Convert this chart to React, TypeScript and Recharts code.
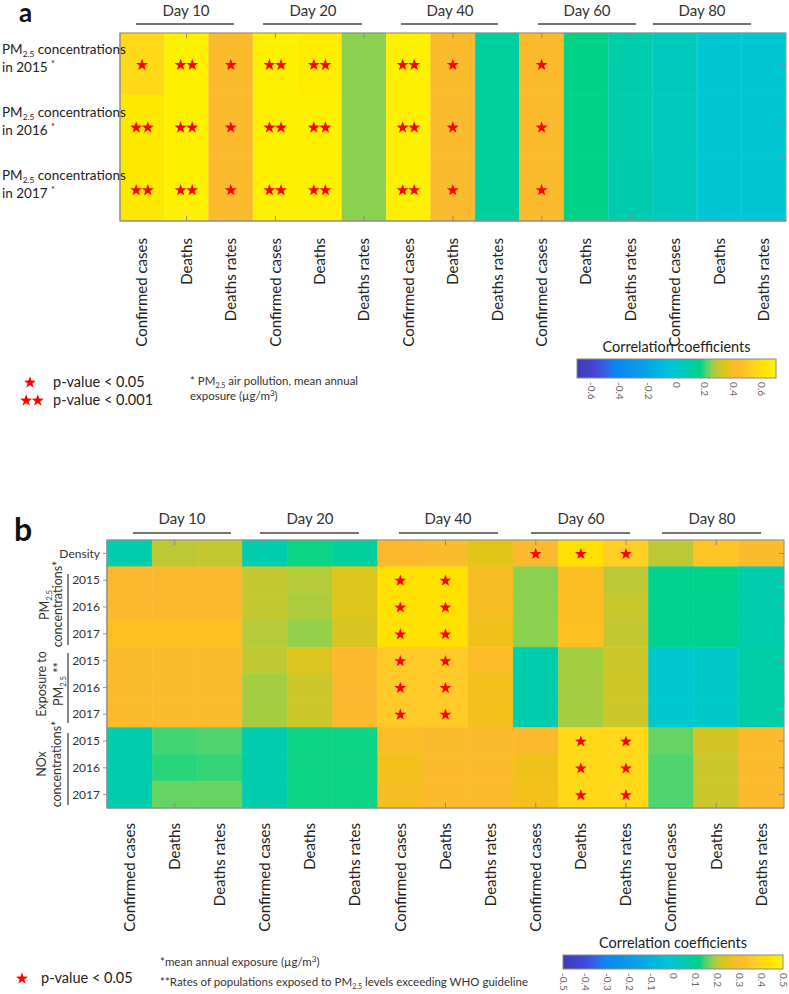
import React from 'react'
import { ComposedChart, Bar, XAxis, YAxis } from 'recharts'

// ---------- data ----------
const dayGroups = ['Day 10', 'Day 20', 'Day 40', 'Day 60', 'Day 80']
const outcomes = ['Confirmed cases', 'Deaths', 'Deaths rates']

// panel a: PM2.5 concentrations 2015-2017
const yearsA = ['2015', '2016', '2017']
const corrA = [
  [0.56, 0.67, 0.41, 0.67, 0.66, 0.245, 0.67, 0.42, 0.12, 0.42, 0.168, 0.084, 0.04, -0.014, -0.016],
  [0.64, 0.67, 0.41, 0.67, 0.67, 0.245, 0.67, 0.41, 0.12, 0.42, 0.168, 0.084, 0.04, -0.014, -0.016],
  [0.64, 0.67, 0.41, 0.67, 0.67, 0.245, 0.67, 0.41, 0.12, 0.42, 0.168, 0.08, 0.04, -0.014, -0.016],
]
// 0 = n.s., 1 = p < 0.05, 2 = p < 0.001
const sigA = [
  [1, 2, 1, 2, 2, 0, 2, 1, 0, 1, 0, 0, 0, 0, 0],
  [2, 2, 1, 2, 2, 0, 2, 1, 0, 1, 0, 0, 0, 0, 0],
  [2, 2, 1, 2, 2, 0, 2, 1, 0, 1, 0, 0, 0, 0, 0],
]

// panel b
const rowsB = ['Density', '2015', '2016', '2017', '2015', '2016', '2017', '2015', '2016', '2017']
const corrB = [
  [0.06, 0.205, 0.21, 0.055, 0.125, 0.09, 0.29, 0.3, 0.252, 0.29, 0.43, 0.37, 0.205, 0.345, 0.3],
  [0.29, 0.29, 0.29, 0.21, 0.2, 0.245, 0.43, 0.43, 0.28, 0.175, 0.32, 0.205, 0.11, 0.115, 0.055],
  [0.29, 0.29, 0.29, 0.21, 0.195, 0.245, 0.43, 0.43, 0.28, 0.175, 0.32, 0.215, 0.11, 0.11, 0.055],
  [0.33, 0.33, 0.33, 0.2, 0.18, 0.235, 0.43, 0.43, 0.27, 0.175, 0.33, 0.21, 0.11, 0.11, 0.055],
  [0.3, 0.3, 0.3, 0.208, 0.24, 0.29, 0.36, 0.36, 0.31, 0.06, 0.19, 0.22, 0.0, 0.01, 0.07],
  [0.3, 0.3, 0.3, 0.19, 0.22, 0.29, 0.36, 0.36, 0.275, 0.06, 0.19, 0.225, 0.0, 0.01, 0.07],
  [0.3, 0.3, 0.3, 0.19, 0.22, 0.29, 0.36, 0.36, 0.275, 0.06, 0.19, 0.22, 0.0, 0.01, 0.07],
  [0.06, 0.145, 0.15, 0.055, 0.125, 0.125, 0.31, 0.3, 0.295, 0.29, 0.4, 0.4, 0.16, 0.23, 0.3],
  [0.06, 0.135, 0.14, 0.055, 0.125, 0.125, 0.275, 0.3, 0.3, 0.27, 0.4, 0.4, 0.15, 0.22, 0.3],
  [0.06, 0.16, 0.16, 0.055, 0.125, 0.125, 0.28, 0.3, 0.3, 0.275, 0.4, 0.4, 0.15, 0.22, 0.3],
]
const sigB = [
  [0, 0, 0, 0, 0, 0, 0, 0, 0, 1, 1, 1, 0, 0, 0],
  [0, 0, 0, 0, 0, 0, 1, 1, 0, 0, 0, 0, 0, 0, 0],
  [0, 0, 0, 0, 0, 0, 1, 1, 0, 0, 0, 0, 0, 0, 0],
  [0, 0, 0, 0, 0, 0, 1, 1, 0, 0, 0, 0, 0, 0, 0],
  [0, 0, 0, 0, 0, 0, 1, 1, 0, 0, 0, 0, 0, 0, 0],
  [0, 0, 0, 0, 0, 0, 1, 1, 0, 0, 0, 0, 0, 0, 0],
  [0, 0, 0, 0, 0, 0, 1, 1, 0, 0, 0, 0, 0, 0, 0],
  [0, 0, 0, 0, 0, 0, 0, 0, 0, 0, 1, 1, 0, 0, 0],
  [0, 0, 0, 0, 0, 0, 0, 0, 0, 0, 1, 1, 0, 0, 0],
  [0, 0, 0, 0, 0, 0, 0, 0, 0, 0, 1, 1, 0, 0, 0],
]

const rangeA: [number, number] = [-0.7, 0.7]
const rangeB: [number, number] = [-0.5, 0.5]
const cbarTicksA = [-0.6, -0.4, -0.2, 0, 0.2, 0.4, 0.6]
const cbarTicksB = [-0.5, -0.4, -0.3, -0.2, -0.1, 0, 0.1, 0.2, 0.3, 0.4, 0.5]

// ---------- layout / style ----------
const W = 789
const FONT = 'Lato, "Open Sans", sans-serif'
const PLOT_A = { left: 120, top: 33, width: 666, height: 188 }
const PLOT_B = { left: 107, top: 540, width: 677, height: 268 }
const CHART_B_TOP = 480

const headersA = [
  { cx: 186, x1: 136, x2: 234 }, { cx: 313, x1: 263, x2: 362 }, { cx: 450, x1: 401, x2: 498 },
  { cx: 587, x1: 538, x2: 636 }, { cx: 702, x1: 653, x2: 751 },
]
const headersB = [
  { cx: 182, x1: 133, x2: 231 }, { cx: 310, x1: 260, x2: 359 }, { cx: 448, x1: 399, x2: 498 },
  { cx: 581, x1: 531, x2: 630 }, { cx: 712, x1: 662, x2: 761 },
]

const cmapStops: [number, string][] = [
  [0.0, '#3d3bb5'], [0.1, '#4448d8'], [0.15, '#2f66ea'], [0.19, '#0d84f2'], [0.3, '#0a98ec'],
  [0.42, '#00b8dc'], [0.48, '#00c6d6'], [0.5, '#00c8cf'], [0.555, '#00ccae'], [0.59, '#00d09c'],
  [0.62, '#00d388'], [0.65, '#50d470'], [0.68, '#96d04a'], [0.71, '#c4c830'], [0.75, '#e2c418'],
  [0.775, '#f4c01c'], [0.79, '#fcb930'], [0.83, '#fdc020'], [0.86, '#ffca28'], [0.9, '#ffd818'],
  [0.93, '#ffe000'], [1.0, '#fff500'],
]

const hex = (c: string) => [1, 3, 5].map((i) => parseInt(c.slice(i, i + 2), 16))
function cmap(v: number, range: [number, number]) {
  const t = Math.max(0, Math.min(1, (v - range[0]) / (range[1] - range[0])))
  for (let i = 1; i < cmapStops.length; i++) {
    const [t1, c1] = cmapStops[i]
    if (t <= t1) {
      const [t0, c0] = cmapStops[i - 1]
      const f = (t - t0) / (t1 - t0)
      const a = hex(c0), b = hex(c1)
      return `rgb(${a.map((x, k) => Math.round(x + (b[k] - x) * f)).join(',')})`
    }
  }
  return cmapStops[cmapStops.length - 1][1]
}

const columns = dayGroups.flatMap((g) => outcomes.map((o) => ({ key: `${g}|${o}`, label: o })))

function starPoints(cx: number, cy: number, r: number) {
  const pts: string[] = []
  for (let k = 0; k < 10; k++) {
    const rad = k % 2 === 0 ? r : r * 0.4
    const ang = -Math.PI / 2 + (k * Math.PI) / 5
    pts.push(`${(cx + rad * Math.cos(ang)).toFixed(2)},${(cy + rad * Math.sin(ang)).toFixed(2)}`)
  }
  return pts.join(' ')
}
const Star = ({ cx, cy, r }: any) => <polygon points={starPoints(cx, cy + r * 0.095, r)} fill="#ff0000" />

function Stars({ cx, cy, r, n }: any) {
  if (n === 1) return <Star cx={cx} cy={cy} r={r} />
  if (n === 2)
    return (
      <g>
        <Star cx={cx - r * 0.92} cy={cy} r={r} />
        <Star cx={cx + r * 0.92} cy={cy} r={r} />
      </g>
    )
  return null
}

function HeatCell(p: any) {
  const { x, y, width, height, fill, n, r } = p
  const top = Math.min(y, y + height)
  const h = Math.abs(height)
  return (
    <g>
      <rect x={x} y={top} width={width} height={h} fill={fill} stroke={fill} strokeWidth={0.6} />
      <Stars cx={x + width / 2} cy={top + h / 2} r={r} n={n} />
    </g>
  )
}

const ColTick = ({ x, y, payload, fontSize, gap }: any) => (
  <text
    x={x}
    y={y}
    dx={-gap}
    dy="0.35em"
    transform={`rotate(-90 ${x} ${y})`}
    textAnchor="end"
    fontSize={fontSize}
    fontFamily={FONT}
    fill="#222"
  >
    {String(payload.value).split('|')[1]}
  </text>
)

const PM = ({ size }: { size: number }) => (
  <>
    PM<tspan fontSize={size * 0.62} dy={3}>2.5</tspan>
    <tspan dy={-3}> </tspan>
  </>
)

const RowTickA = ({ x, y, payload }: any) => {
  const i = Math.floor(payload.value)
  return (
    <g fontFamily={FONT} fontSize={13.5} fill="#222">
      <text x={x - 118} y={y - 10}>
        <PM size={13.5} />concentrations
      </text>
      <text x={x - 118} y={y + 8}>
        in {yearsA[i]} <tspan fontSize={9} dy={-5}>*</tspan>
      </text>
    </g>
  )
}

function HeatPanel({ rows, corr, sig, range, plot, top, xAxisH, fontSize, gap, yTick, yTickSize, yFormat, starR }: any) {
  const data = columns.map((c) => {
    const d: any = { key: c.key }
    rows.forEach((_: string, ri: number) => (d[`r${ri}`] = 1))
    return d
  })
  const height = plot.top - top + plot.height + xAxisH
  return (
    <div style={{ position: 'absolute', left: 0, top }}>
      <ComposedChart
        width={W}
        height={height}
        data={data}
        margin={{ top: plot.top - top, right: W - plot.left - plot.width, bottom: 0, left: 0 }}
        barCategoryGap={0}
        barGap={0}
      >
        <XAxis
          dataKey="key"
          type="category"
          height={xAxisH}
          interval={0}
          tickLine={false}
          axisLine={{ stroke: '#999' }}
          tick={(p: any) => <ColTick {...p} fontSize={fontSize} gap={gap} />}
        />
        <YAxis
          type="number"
          domain={[0, rows.length]}
          reversed
          ticks={rows.map((_: string, i: number) => i + 0.5)}
          interval={0}
          width={plot.left}
          axisLine={{ stroke: '#999' }}
          tickLine={yTickSize ? { stroke: '#999' } : false}
          tickSize={yTickSize}
          tickMargin={yTickSize ? 3 : 0}
          tickFormatter={yFormat}
          tick={yTick}
        />
        {rows.map((_: string, ri: number) => (
          <Bar
            key={ri}
            dataKey={`r${ri}`}
            stackId="heat"
            isAnimationActive={false}
            shape={(p: any) => (
              <HeatCell {...p} fill={cmap(corr[ri][p.index], range)} n={sig[ri][p.index]} r={starR} />
            )}
          />
        ))}
      </ComposedChart>
    </div>
  )
}

function Frame({ plot, nRows, sideTicks }: any) {
  const cw = plot.width / columns.length
  const rh = plot.height / nRows
  const marks: JSX.Element[] = []
  columns.forEach((_, ci) => {
    if (ci % 2 === 1) {
      const x = plot.left + cw * (ci + 0.5)
      marks.push(<line key={`t${ci}`} x1={x} x2={x} y1={plot.top} y2={plot.top + 5} />)
      marks.push(<line key={`b${ci}`} x1={x} x2={x} y1={plot.top + plot.height} y2={plot.top + plot.height - 5} />)
    }
  })
  sideTicks.forEach((f: number, k: number) => {
    const y = plot.top + rh * f
    marks.push(<line key={`r${k}`} x1={plot.left + plot.width} x2={plot.left + plot.width - 5} y1={y} y2={y} />)
  })
  return (
    <g stroke="#8a8a8a" strokeWidth={1}>
      <rect x={plot.left} y={plot.top} width={plot.width} height={plot.height} fill="none" />
      {marks}
    </g>
  )
}

function ColorBar({ id, x, y, w, h, range, ticks, title, titleY }: any) {
  return (
    <g fontFamily={FONT}>
      <defs>
        <linearGradient id={id} x1="0" x2="1" y1="0" y2="0">
          {cmapStops.map(([t, c]) => (
            <stop key={t} offset={t} stopColor={c} />
          ))}
        </linearGradient>
      </defs>
      <text x={x + w / 2} y={titleY} textAnchor="middle" fontSize={14.5} fill="#222">
        {title}
      </text>
      <rect x={x} y={y} width={w} height={h} fill={`url(#${id})`} stroke="#8a8a8a" />
      {ticks.map((v: number) => {
        const tx = x + ((v - range[0]) / (range[1] - range[0])) * w
        const ty = y + h + 4
        return (
          <text key={v} x={tx} y={ty} dy="0.35em" transform={`rotate(90 ${tx} ${ty})`} fontSize={10} fill="#666">
            {String(v)}
          </text>
        )
      })}
    </g>
  )
}

function Headers({ items, textY, lineY }: any) {
  return (
    <g fontFamily={FONT}>
      {items.map((h: any, i: number) => (
        <g key={i}>
          <text x={h.cx} y={textY} textAnchor="middle" fontSize={15} fill="#333">
            {dayGroups[i]}
          </text>
          <line x1={h.x1} x2={h.x2} y1={lineY} y2={lineY} stroke="#444" strokeWidth={1.4} />
        </g>
      ))}
    </g>
  )
}

function RotLabel({ cx, cy, children, size = 12.5 }: any) {
  return (
    <text
      x={cx}
      y={cy}
      dy="0.35em"
      transform={`rotate(-90 ${cx} ${cy})`}
      textAnchor="middle"
      fontSize={size}
      fontFamily={FONT}
      fill="#333"
    >
      {children}
    </text>
  )
}

export default function App() {
  return (
    <div style={{ position: 'relative', width: W, height: 994, background: '#fff', fontFamily: FONT }}>
      <style>{'body{margin:0}'}</style>
      <HeatPanel
        rows={yearsA}
        corr={corrA}
        sig={sigA}
        range={rangeA}
        plot={PLOT_A}
        top={0}
        xAxisH={132}
        fontSize={15}
        gap={9}
        yTick={(p: any) => <RowTickA {...p} />}
        yTickSize={0}
        starR={6.3}
      />
      <HeatPanel
        rows={rowsB}
        corr={corrB}
        sig={sigB}
        range={rangeB}
        plot={PLOT_B}
        top={CHART_B_TOP}
        xAxisH={132}
        fontSize={15}
        gap={7}
        yTick={{ fontSize: 12, fill: '#333', fontFamily: FONT }}
        yTickSize={4}
        yFormat={(v: number) => rowsB[Math.floor(v)]}
        starR={6.2}
      />
      <svg width={W} height={994} style={{ position: 'absolute', left: 0, top: 0, pointerEvents: 'none' }}>
        <Frame plot={PLOT_A} nRows={3} sideTicks={[0.5, 1, 1.5, 2, 2.5]} />
        <Frame plot={PLOT_B} nRows={10} sideTicks={[0.5, 1.5, 2.5, 3.5, 4.5, 5.5, 6.5, 7.5, 8.5, 9.5]} />

        <text x={19} y={22} fontSize={26} fontWeight="bold" fontFamily={FONT} fill="#111">a</text>
        <text x={14} y={541} fontSize={32} fontWeight="bold" fontFamily={FONT} fill="#111">b</text>

        <Headers items={headersA} textY={16} lineY={24} />
        <Headers items={headersB} textY={524} lineY={533} />

        {/* panel a legend */}
        <Stars cx={30} cy={382} r={6.3} n={1} />
        <Stars cx={32} cy={400} r={6.3} n={2} />
        <g fontFamily={FONT} fontSize={14.5} fill="#222">
          <text x={53} y={387}>p-value &lt; 0.05</text>
          <text x={53} y={405}>p-value &lt; 0.001</text>
        </g>
        <g fontFamily={FONT} fontSize={11.5} fill="#333">
          <text x={190} y={385}>
            * <PM size={11.5} />air pollution, mean annual
          </text>
          <text x={190} y={400}>
            exposure (µg/m<tspan fontSize={8} dy={-4}>3</tspan>
            <tspan dy={4}>)</tspan>
          </text>
        </g>
        <ColorBar id="cbA" x={577} y={359} w={199} h={19} range={rangeA} ticks={cbarTicksA} title="Correlation coefficients" titleY={352} />

        {/* panel b group labels */}
        <RotLabel cx={45} cy={605}>
          <PM size={12.5} />
        </RotLabel>
        <RotLabel cx={58} cy={604}>concentrations*</RotLabel>
        <line x1={68} x2={68} y1={574} y2={645} stroke="#444" strokeWidth={1.3} />
        <RotLabel cx={42} cy={684}>Exposure to</RotLabel>
        <RotLabel cx={59} cy={684}>
          <PM size={12.5} />**
        </RotLabel>
        <line x1={68} x2={68} y1={653} y2={723} stroke="#444" strokeWidth={1.3} />
        <RotLabel cx={42} cy={764}>NOx</RotLabel>
        <RotLabel cx={57} cy={764}>concentrations*</RotLabel>
        <line x1={68} x2={68} y1={733} y2={805} stroke="#444" strokeWidth={1.3} />

        {/* panel b legend */}
        <Stars cx={22} cy={978} r={6.3} n={1} />
        <text x={41} y={983} fontFamily={FONT} fontSize={14.5} fill="#222">p-value &lt; 0.05</text>
        <g fontFamily={FONT} fontSize={11.5} fill="#333">
          <text x={160} y={966}>
            *mean annual exposure (µg/m<tspan fontSize={8} dy={-4}>3</tspan>
            <tspan dy={4}>)</tspan>
          </text>
          <text x={160} y={986}>
            **Rates of populations exposed to <PM size={11.5} />levels exceeding WHO guideline
          </text>
        </g>
        <ColorBar id="cbB" x={563} y={955} w={220} h={14} range={rangeB} ticks={cbarTicksB} title="Correlation coefficients" titleY={948} />
      </svg>
    </div>
  )
}
